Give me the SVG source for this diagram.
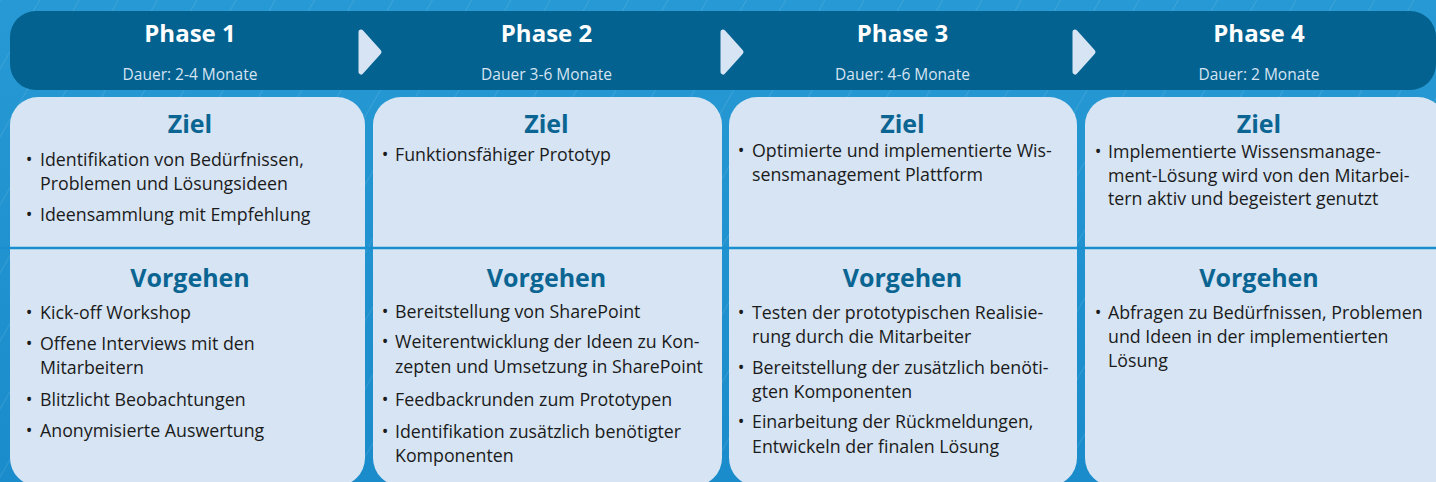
<svg xmlns="http://www.w3.org/2000/svg" width="1436" height="482" viewBox="0 0 1436 482">
<defs>
<pattern id="streaks" patternUnits="userSpaceOnUse" width="34" height="60" patternTransform="rotate(30)">
<rect width="34" height="60" fill="none"/>
<line x1="0" y1="0" x2="0" y2="60" stroke="#ffffff" stroke-opacity="0.1" stroke-width="2"/>
</pattern>
<linearGradient id="bg" x1="0" y1="0" x2="0" y2="1">
<stop offset="0" stop-color="#2799d4"/>
<stop offset="1" stop-color="#1a8ccb"/>
</linearGradient>
<style>
.head{fill:#03628f}
.arrow{fill:#d6e4f3;stroke:#d6e4f3;stroke-width:5;stroke-linejoin:round}
.panel{fill:#d6e4f3}
.ph{font-family:"Open Sans","Noto Sans",sans-serif;font-weight:700;font-size:24px;fill:#ffffff;text-anchor:middle}
.dur{font-family:"Open Sans","Noto Sans",sans-serif;font-size:15.5px;fill:#d6e4f3;text-anchor:middle}
.h{font-family:"Open Sans","Noto Sans",sans-serif;font-weight:700;font-size:25px;fill:#0b6592;text-anchor:middle}
.t{font-family:"Open Sans","Noto Sans",sans-serif;font-size:17.8px;fill:#1b1b1b}
.bul{font-family:"Open Sans","Noto Sans",sans-serif;font-size:17.8px;fill:#1b1b1b;text-anchor:middle}
</style>
</defs>
<rect width="1436" height="482" fill="url(#bg)"/>
<rect width="1436" height="482" fill="url(#streaks)"/>

<g id="header">
<rect class="head" x="10" y="11" width="1426" height="79" rx="26"/>
</g>

<g id="connectors">
<path class="arrow" d="M361,32 L379,52 L361,72 Z"/>
<path class="arrow" d="M723,32 L741,52 L723,72 Z"/>
<path class="arrow" d="M1075,32 L1093,52 L1075,72 Z"/>
</g>

<g id="phase1">
<path class="panel" d="M10,125 A28,28 0 0 1 38,97 L337,97 A28,28 0 0 1 365,125 L365,458 A28,28 0 0 1 337,486 L38,486 A28,28 0 0 1 10,458 Z"/>
<text class="ph" x="190" y="42">Phase 1</text>
<text class="dur" x="190" y="80">Dauer: 2-4 Monate</text>
</g>
<g id="phase2">
<path class="panel" d="M373,125 A28,28 0 0 1 401,97 L694,97 A28,28 0 0 1 722,125 L722,458 A28,28 0 0 1 694,486 L401,486 A28,28 0 0 1 373,458 Z"/>
<text class="ph" x="546.5" y="42">Phase 2</text>
<text class="dur" x="546.5" y="80">Dauer 3-6 Monate</text>
</g>
<g id="phase3">
<path class="panel" d="M729,125 A28,28 0 0 1 757,97 L1049,97 A28,28 0 0 1 1077,125 L1077,458 A28,28 0 0 1 1049,486 L757,486 A28,28 0 0 1 729,458 Z"/>
<text class="ph" x="902.5" y="42">Phase 3</text>
<text class="dur" x="902.5" y="80">Dauer: 4-6 Monate</text>
</g>
<g id="phase4">
<path class="panel" d="M1085,125 A28,28 0 0 1 1113,97 L1418,97 A28,28 0 0 1 1446,125 L1446,486 L1113,486 A28,28 0 0 1 1085,458 Z"/>
<text class="ph" x="1259" y="42">Phase 4</text>
<text class="dur" x="1259" y="80">Dauer: 2 Monate</text>
</g>

<g id="divider">
<line x1="0" y1="248" x2="1436" y2="248" stroke="#1a8fd0" stroke-width="2.5"/>
</g>

<g id="ziel1">
<text class="h" x="190" y="133">Ziel</text>
<text class="bul" x="29" y="166">•</text>
<text class="t" x="40" y="166">Identifikation von Bedürfnissen,</text>
<text class="t" x="40" y="190">Problemen und Lösungsideen</text>
<text class="bul" x="29" y="221">•</text>
<text class="t" x="40" y="221">Ideensammlung mit Empfehlung</text>
</g>
<g id="vorgehen1">
<text class="h" x="190" y="287">Vorgehen</text>
<text class="bul" x="29" y="319">•</text>
<text class="t" x="40" y="319">Kick-off Workshop</text>
<text class="bul" x="29" y="350">•</text>
<text class="t" x="40" y="350">Offene Interviews mit den</text>
<text class="t" x="40" y="374">Mitarbeitern</text>
<text class="bul" x="29" y="406">•</text>
<text class="t" x="40" y="406">Blitzlicht Beobachtungen</text>
<text class="bul" x="29" y="437">•</text>
<text class="t" x="40" y="437">Anonymisierte Auswertung</text>
</g>

<g id="ziel2">
<text class="h" x="546.5" y="133">Ziel</text>
<text class="bul" x="385" y="161">•</text>
<text class="t" x="395" y="161">Funktionsfähiger Prototyp</text>
</g>
<g id="vorgehen2">
<text class="h" x="546.5" y="287">Vorgehen</text>
<text class="bul" x="385" y="318">•</text>
<text class="t" x="395" y="318">Bereitstellung von SharePoint</text>
<text class="bul" x="385" y="348">•</text>
<text class="t" x="395" y="348">Weiterentwicklung der Ideen zu Kon-</text>
<text class="t" x="395" y="373">zepten und Umsetzung in SharePoint</text>
<text class="bul" x="385" y="406">•</text>
<text class="t" x="395" y="406">Feedbackrunden zum Prototypen</text>
<text class="bul" x="385" y="438">•</text>
<text class="t" x="395" y="438">Identifikation zusätzlich benötigter</text>
<text class="t" x="395" y="462">Komponenten</text>
</g>

<g id="ziel3">
<text class="h" x="902.5" y="133">Ziel</text>
<text class="bul" x="741" y="157">•</text>
<text class="t" x="752" y="157">Optimierte und implementierte Wis-</text>
<text class="t" x="752" y="181">sensmanagement Plattform</text>
</g>
<g id="vorgehen3">
<text class="h" x="902.5" y="287">Vorgehen</text>
<text class="bul" x="741" y="319">•</text>
<text class="t" x="752" y="319">Testen der prototypischen Realisie-</text>
<text class="t" x="752" y="343">rung durch die Mitarbeiter</text>
<text class="bul" x="741" y="374">•</text>
<text class="t" x="752" y="374">Bereitstellung der zusätzlich benöti-</text>
<text class="t" x="752" y="398">gten Komponenten</text>
<text class="bul" x="741" y="428">•</text>
<text class="t" x="752" y="428">Einarbeitung der Rückmeldungen,</text>
<text class="t" x="752" y="453">Entwickeln der finalen Lösung</text>
</g>

<g id="ziel4">
<text class="h" x="1259" y="133">Ziel</text>
<text class="bul" x="1098" y="158">•</text>
<text class="t" x="1108" y="158">Implementierte Wissensmanage-</text>
<text class="t" x="1108" y="182">ment-Lösung wird von den Mitarbei-</text>
<text class="t" x="1108" y="205">tern aktiv und begeistert genutzt</text>
</g>
<g id="vorgehen4">
<text class="h" x="1259" y="287">Vorgehen</text>
<text class="bul" x="1098" y="319">•</text>
<text class="t" x="1108" y="319">Abfragen zu Bedürfnissen, Problemen</text>
<text class="t" x="1108" y="343">und Ideen in der implementierten</text>
<text class="t" x="1108" y="367">Lösung</text>
</g>
</svg>
